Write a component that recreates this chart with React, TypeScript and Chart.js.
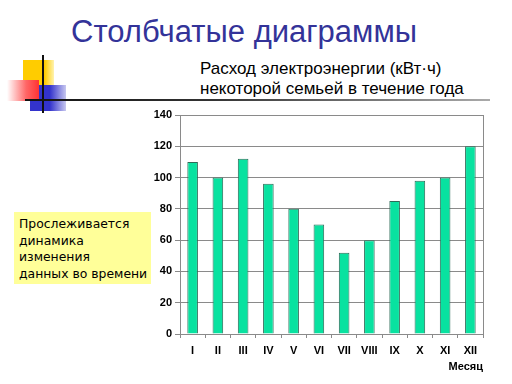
import React, { useEffect, useRef } from "react";
import { Chart, registerables } from "chart.js";

Chart.register(...registerables);

const months = ["I", "II", "III", "IV", "V", "VI", "VII", "VIII", "IX", "X", "XI", "XII"];
const usage = [110, 100, 112, 96, 80, 70, 52, 60, 85, 98, 100, 120];
const titleText = "Столбчатые диаграммы";
const subtitleLines = ["Расход электроэнергии (кВт·ч)", "некоторой семьей в течение года"];
const noteLines = ["Прослеживается", "динамика", "изменения", "данных во времени"];
const axisTitle = "Месяц";

const frame = {
  id: "frame",
  afterDraw(chart: any) {
    const { ctx, chartArea: a } = chart;
    ctx.save();
    ctx.strokeStyle = "#8a8a8a";
    ctx.lineWidth = 1;
    ctx.beginPath();
    ctx.moveTo(Math.round(a.right) + 0.5, a.top);
    ctx.lineTo(Math.round(a.right) + 0.5, a.bottom);
    ctx.stroke();
    ctx.restore();
  },
};

export default function App() {
  const ref = useRef<HTMLCanvasElement>(null);
  useEffect(() => {
    const chart = new Chart(ref.current!, {
      type: "bar",
      data: {
        labels: months,
        datasets: [
          {
            data: usage,
            backgroundColor: "#08e2a0",
            borderColor: "#2e6b58",
            borderWidth: 1,
            barPercentage: 0.84,
            categoryPercentage: 0.5,
          },
        ],
      },
      options: {
        responsive: false,
        animation: false,
        layout: { padding: { left: 0, right: 29, top: 115, bottom: 10 } },
        plugins: { legend: { display: false }, tooltip: { enabled: false } },
        scales: {
          x: {
            afterFit: (s: any) => {
              s.height = 40;
            },
            grid: { display: true, drawOnChartArea: false, color: "#8a8a8a", tickLength: 4, offset: true },
            border: { color: "#8a8a8a" },
            ticks: {
              color: "#000",
              font: { family: "Arial, 'Liberation Sans'", size: 11, weight: "bold" },
              padding: 6,
              maxRotation: 0,
              autoSkip: false,
            },
            title: {
              display: true,
              text: axisTitle,
              align: "end",
              color: "#000",
              font: { family: "Arial, 'Liberation Sans'", size: 11, weight: "bold" },
              padding: { top: 0, bottom: 0 },
            },
          },
          y: {
            min: 0,
            max: 140,
            afterFit: (s: any) => {
              s.width = 180;
            },
            grid: { color: "#8a8a8a", tickLength: 5 },
            border: { color: "#8a8a8a" },
            ticks: {
              stepSize: 20,
              color: "#000",
              font: { family: "Arial, 'Liberation Sans'", size: 11, weight: "bold" },
              padding: 3,
            },
          },
        },
      },
      plugins: [frame],
    });
    return () => chart.destroy();
  }, []);

  return (
    <div style={{ position: "fixed", left: 0, top: 0, width: 512, height: 384, background: "#fff", overflow: "hidden" }}>
      {/* decoration */}
      <div style={{ position: "absolute", left: 23, top: 60, width: 31, height: 40, background: "linear-gradient(to right, #ffcc00 70%, #fff3b0)" }} />
      <div style={{ position: "absolute", left: 30, top: 85, width: 36, height: 26, background: "linear-gradient(to right, #3333cc 55%, #c8c8f0)" }} />
      <div style={{ position: "absolute", left: 7, top: 80, width: 32, height: 21, background: "linear-gradient(to right, #ffffff, #ff6666 60%, #ff3333)" }} />
      <div style={{ position: "absolute", left: 42, top: 55, width: 2, height: 58, background: "#111" }} />
      <div style={{ position: "absolute", left: 25, top: 99, width: 465, height: 2, background: "linear-gradient(to right, #111 0%, #333 40%, #aaa 100%)" }} />
      <div
        style={{
          position: "absolute",
          left: 0,
          width: 488,
          top: 12,
          textAlign: "center",
          fontFamily: "'Liberation Sans', Arial, sans-serif",
          fontSize: 31,
          lineHeight: "40px",
          color: "#333399",
          whiteSpace: "nowrap",
        }}
      >
        {titleText}
      </div>
      <div
        style={{
          position: "absolute",
          left: 200,
          top: 59,
          fontFamily: "'Liberation Sans', Arial, sans-serif",
          fontSize: 17,
          lineHeight: "20px",
          color: "#000",
          whiteSpace: "nowrap",
        }}
      >
        {subtitleLines.map((l) => (
          <div key={l}>{l}</div>
        ))}
      </div>
      <canvas ref={ref} width={512} height={384} style={{ position: "absolute", left: 0, top: 0 }} />
      <div
        style={{
          position: "absolute",
          left: 14,
          top: 212,
          width: 137,
          height: 72,
          background: "#ffff99",
          boxSizing: "border-box",
          paddingLeft: 5,
          paddingTop: 4,
          fontFamily: "'DejaVu Sans', Verdana, sans-serif",
          fontSize: 12.4,
          lineHeight: "16.6px",
          color: "#000",
          whiteSpace: "nowrap",
        }}
      >
        {noteLines.map((l) => (
          <div key={l}>{l}</div>
        ))}
      </div>
    </div>
  );
}
